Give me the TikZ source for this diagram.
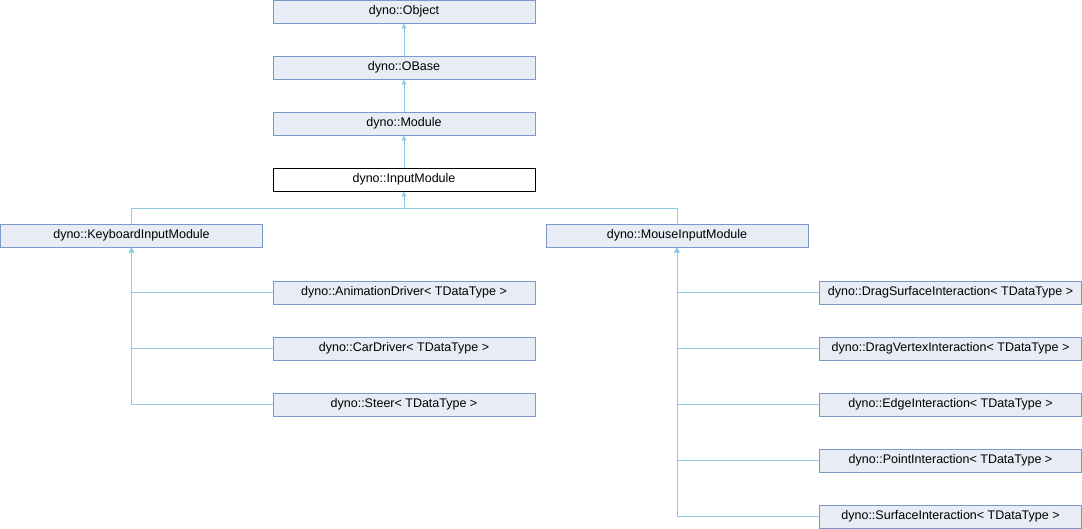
\documentclass[tikz,border=0pt]{standalone}
\usepackage{fontspec}
\setmainfont{Liberation Sans}
\usetikzlibrary{arrows.meta}
\definecolor{boxFill}{HTML}{E8ECF5}
\definecolor{boxLine}{HTML}{7B97CB}
\colorlet{penColor}{boxLine}
\definecolor{edgeColor}{HTML}{8FCAE6}
\tikzset{>={Triangle[length=5pt,width=5pt]}}
\tikzset{
  cls/.style={draw=penColor,fill=boxFill,line width=0.9pt,minimum width=262pt,
    minimum height=23pt,inner sep=0pt,font=\fontsize{12.5}{14}\selectfont},
  cur/.style={cls,draw=black,fill=white},
  edge/.style={draw=edgeColor,line width=0.9pt,->},
  link/.style={draw=edgeColor,line width=0.9pt}
}
\begin{document}
\begin{tikzpicture}[x=1pt,y=-1pt]
  \useasboundingbox (0,0) rectangle (1082,528);
  % base chain
  \node[cls] (object) at (404,11.5) {dyno::Object};
  \node[cls] (obase) at (404,67.5) {dyno::OBase};
  \node[cls] (module) at (404,123.5) {dyno::Module};
  \node[cur] (input) at (404,179.5) {dyno::InputModule};
  \draw[edge] (obase) -- (object);
  \draw[edge] (module) -- (obase);
  \draw[edge] (input) -- (module);
  % two direct children
  \node[cls] (keyboard) at (131.5,235.5) {dyno::KeyboardInputModule};
  \node[cls] (mouse) at (677,235.5) {dyno::MouseInputModule};
  \coordinate (fork) at (404,208);
  \draw[edge] (keyboard.north) |- (fork) -- (input.south);
  \draw[link] (mouse.north) |- (fork);
  % keyboard side
  \node[cls] (animation) at (404,292.5) {dyno::AnimationDriver< TDataType >};
  \node[cls] (car) at (404,348.5) {dyno::CarDriver< TDataType >};
  \node[cls] (steer) at (404,404.5) {dyno::Steer< TDataType >};
  \draw[edge] (animation.west) -| (keyboard.south);
  \draw[edge] (car.west) -| (keyboard.south);
  \draw[edge] (steer.west) -| (keyboard.south);
  % mouse side
  \node[cls] (dragsurface) at (950.5,292.5) {dyno::DragSurfaceInteraction< TDataType >};
  \node[cls] (dragvertex) at (950.5,348.5) {dyno::DragVertexInteraction< TDataType >};
  \node[cls] (edgeint) at (950.5,404.5) {dyno::EdgeInteraction< TDataType >};
  \node[cls] (pointint) at (950.5,460.5) {dyno::PointInteraction< TDataType >};
  \node[cls] (surfaceint) at (950.5,516.5) {dyno::SurfaceInteraction< TDataType >};
  \draw[edge] (dragsurface.west) -| (mouse.south);
  \draw[edge] (dragvertex.west) -| (mouse.south);
  \draw[edge] (edgeint.west) -| (mouse.south);
  \draw[edge] (pointint.west) -| (mouse.south);
  \draw[edge] (surfaceint.west) -| (mouse.south);
\end{tikzpicture}
\end{document}
